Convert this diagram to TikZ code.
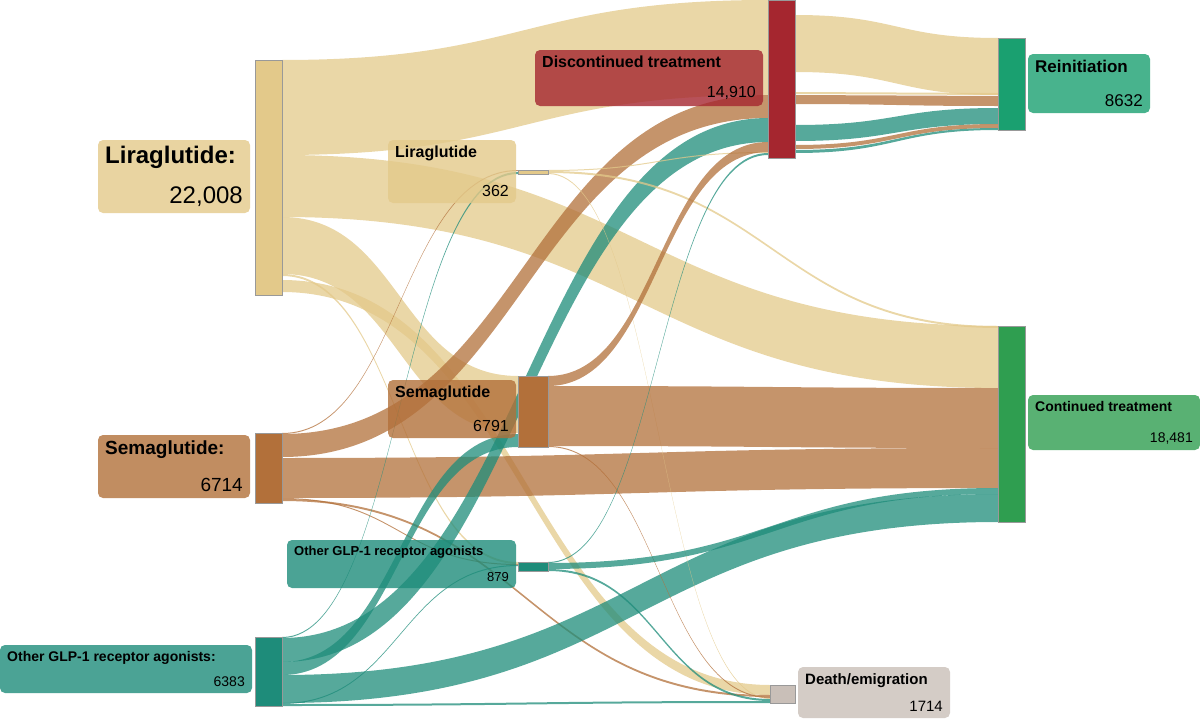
\documentclass[tikz,border=0pt]{standalone}
\usepackage{fontspec}
\setmainfont{Liberation Sans}
\definecolor{lirac}{HTML}{E3C98A}
\definecolor{semac}{HTML}{B2703A}
\definecolor{othc}{HTML}{1E8C7A}
\definecolor{discc}{HTML}{A5262F}
\definecolor{reinc}{HTML}{1AA070}
\definecolor{contc}{HTML}{2F9E50}
\definecolor{deathc}{HTML}{C9BFB8}
% band between two bars
\newcommand\flow[7]{%
  \fill[#7] (#1,#2) .. controls ({(#1+#4)/2},#2) and ({(#1+#4)/2},#5) .. (#4,#5)
    -- (#4,#6) .. controls ({(#1+#4)/2},#6) and ({(#1+#4)/2},#3) .. (#1,#3) -- cycle;}
% label box: x1 y1 x2 y2 colour fontsize title value
\newcommand\lab[8]{%
  \fill[#5,rounded corners=5pt,opacity=.8] (#1,#2) rectangle (#3,#4);
  \node[anchor=north west,inner sep=0,font=\fontsize{#6}{#6}\selectfont\bfseries] at ({#1+7},{#2+6}) {#7};
  \node[anchor=south east,inner sep=0,font=\fontsize{#6}{#6}\selectfont] at ({#3-7},{#4-6}) {#8};}
\begin{document}
\begin{tikzpicture}[x=1pt,y=-1pt,
    lf/.style={fill=lirac,opacity=.75},
    sf/.style={fill=semac,opacity=.75},
    of/.style={fill=othc,opacity=.75},
    bar/.style={draw=black!40,line width=.4pt}]
\useasboundingbox (0,0) rectangle (1200,720);
% liraglutide
\flow{282}{60}{155}{768}{0}{95}{lf}
\flow{282}{155}{217}{998}{326}{388}{lf}
\flow{282}{217}{274}{518}{376}{433}{lf}
\flow{282}{274}{276}{518}{562}{564}{lf}
\flow{282}{280}{292}{770}{685}{695}{lf}
% semaglutide
\flow{282}{433}{434}{518}{170}{171}{sf}
\flow{282}{434}{457}{768}{95}{118}{sf}
\flow{282}{458}{498}{998}{448}{488}{sf}
\flow{282}{498}{499}{518}{564}{565}{sf}
\flow{282}{499}{501}{770}{695}{697}{sf}
% other GLP-1
\flow{282}{637}{638}{518}{172}{174}{of}
\flow{282}{638}{662}{768}{118}{142}{of}
\flow{282}{662}{675}{518}{434}{447}{of}
\flow{282}{675}{703}{998}{494}{522}{of}
\flow{282}{703}{704}{518}{565}{566}{of}
\flow{282}{704}{706}{770}{701}{703}{of}
% middle column
\flow{548}{170}{171}{768}{152}{153}{lf}
\flow{548}{171}{173}{998}{326}{328}{lf}
\flow{548}{173}{174}{770}{698}{699}{lf}
\flow{548}{376}{386}{768}{142}{152}{sf}
\flow{548}{386}{446}{998}{388}{448}{sf}
\flow{548}{446}{447}{770}{697}{698}{sf}
\flow{548}{562}{563}{768}{153}{155}{of}
\flow{548}{563}{569}{998}{488}{494}{of}
\flow{548}{569}{571}{770}{699}{701}{of}
% discontinued to reinitiation
\flow{795}{15}{72}{998}{38}{95}{lf}
\flow{795}{92}{94}{998}{93}{95}{lf}
\flow{795}{95}{104}{998}{96}{106}{sf}
\flow{795}{125}{141}{998}{108}{124}{of}
\flow{795}{145}{149}{998}{124}{128}{sf}
\flow{795}{150}{153}{998}{128}{130}{of}
% bars
\filldraw[bar,fill=lirac] (255,60) rectangle (282,295);
\filldraw[bar,fill=semac] (255,433) rectangle (282,503);
\filldraw[bar,fill=othc] (255,637) rectangle (282,706);
\filldraw[bar,fill=lirac] (518,170) rectangle (548,174);
\filldraw[bar,fill=semac] (518,376) rectangle (548,447);
\filldraw[bar,fill=othc] (518,562) rectangle (548,571);
\filldraw[bar,fill=discc] (768,0) rectangle (795,158);
\filldraw[bar,fill=reinc] (998,38) rectangle (1025,130);
\filldraw[bar,fill=contc] (998,326) rectangle (1025,522);
\filldraw[bar,fill=deathc] (770,685) rectangle (795,703);
% labels
\lab{98}{140}{250}{213}{lirac}{24}{Liraglutide:}{22,008}
\lab{388}{140}{516}{203}{lirac}{16}{Liraglutide}{362}
\lab{98}{435}{250}{498}{semac}{19}{Semaglutide:}{6714}
\lab{388}{380}{516}{438}{semac}{16}{Semaglutide}{6791}
\lab{287}{540}{516}{588}{othc}{13}{Other GLP-1 receptor agonists}{879}
\lab{0}{645}{252}{693}{othc}{14}{Other GLP-1 receptor agonists:}{6383}
\lab{535}{50}{763}{106}{discc}{16}{Discontinued treatment}{14,910}
\lab{1028}{54}{1150}{113}{reinc}{17}{Reinitiation}{8632}
\lab{1028}{395}{1200}{450}{contc}{14}{Continued treatment}{18,481}
\lab{798}{667}{950}{718}{deathc}{15}{Death/emigration}{1714}
\end{tikzpicture}
\end{document}
